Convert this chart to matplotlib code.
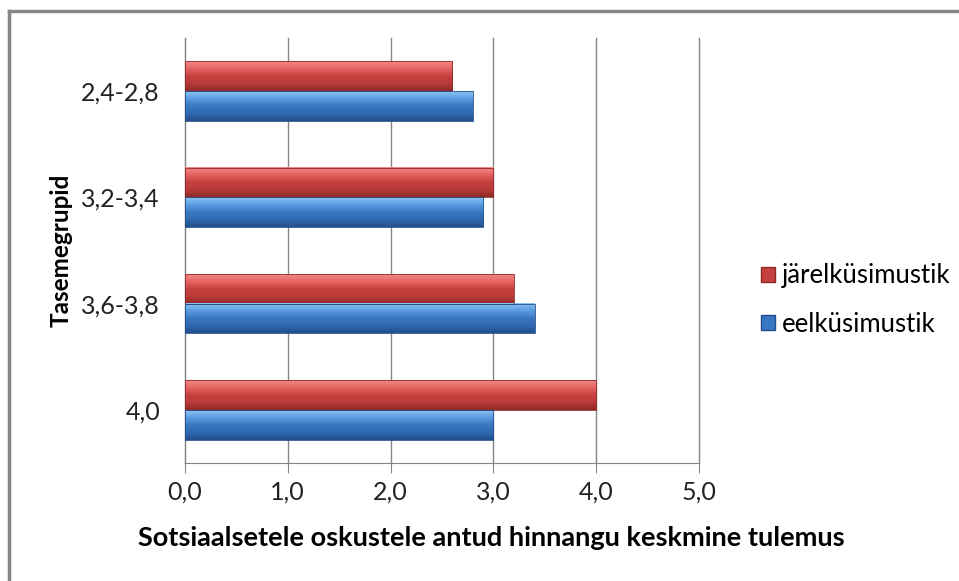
import matplotlib
matplotlib.use("Agg")
import matplotlib.pyplot as plt
import numpy as np
from matplotlib.colors import LinearSegmentedColormap
from matplotlib.lines import Line2D
from matplotlib.patches import Patch

plt.rcParams['font.family'] = ['Lato', 'DejaVu Sans']

# andmed
groups = ["4,0", "3,6-3,8", "3,2-3,4", "2,4-2,8"]
eel = [3.0, 3.4, 2.9, 2.8]
jarel = [4.0, 3.2, 3.0, 2.6]
xticks = [0, 1, 2, 3, 4, 5]

red_cmap = LinearSegmentedColormap.from_list(
    "r", ["#8f2a28", "#b93b39", "#c4413f", "#e56462", "#f28a88"])
blue_cmap = LinearSegmentedColormap.from_list(
    "b", ["#224f8c", "#3169b0", "#3a77c3", "#5c9be0", "#8cc3f4"])

fig = plt.figure(figsize=(9.59, 5.81), dpi=100)
ax = fig.add_axes([0.1929, 0.2031, 0.7289 - 0.1929, 0.9346 - 0.2031])

h = 0.28
grad = np.linspace(0, 1, 64).reshape(-1, 1)
y = np.arange(len(groups))


def gradbar(x0, val, yc, cmap):
    # varjustatud tulp: gradient alt ülesse
    y0, y1 = yc - h / 2, yc + h / 2
    ax.imshow(grad, cmap=cmap, aspect='auto', origin='lower',
              extent=(x0, val, y0, y1), zorder=3, interpolation='bilinear')
    ax.add_patch(plt.Rectangle((x0, y0), val - x0, y1 - y0, fill=False,
                               edgecolor=cmap(0.0), lw=0.6, zorder=4))


for i in range(len(groups)):
    gradbar(0, jarel[i], y[i] + h / 2, red_cmap)
    gradbar(0, eel[i], y[i] - h / 2, blue_cmap)

ax.set_xlim(0, 5)
ax.set_ylim(-0.5, len(groups) - 0.5)
ax.set_xticks(xticks)
ax.set_xticklabels([f"{v:.1f}".replace(".", ",") for v in xticks], fontsize=18, color="#222222")
ax.set_yticks(y)
ax.set_yticklabels(groups, fontsize=18, color="#222222")
ax.tick_params(axis='y', length=0, pad=18)
ax.tick_params(axis='x', length=7, color="#868686", pad=6)
ax.grid(axis='x', color="#868686", lw=1, zorder=0)
for gl in ax.xaxis.get_gridlines():
    gl.set_clip_on(False)
ax.set_axisbelow(True)
for s in ["top", "right"]:
    ax.spines[s].set_visible(False)
ax.spines["left"].set_color("#868686")
ax.spines["bottom"].set_color("#868686")

ax.set_ylabel("Tasemegrupid", fontsize=17.5, fontweight='bold', labelpad=6)
fig.text(491 / 959, 1 - 538 / 581, "Sotsiaalsetele oskustele antud hinnangu keskmine tulemus",
         ha='center', va='center', fontsize=19.5, fontweight='bold')

handles = [Patch(facecolor="#c4413f", edgecolor="#8f2a28", label="järelküsimustik"),
           Patch(facecolor="#3a77c3", edgecolor="#224f8c", label="eelküsimustik")]
fig.legend(handles=handles, loc='center left', bbox_to_anchor=(761 / 959, 1 - 300 / 581),
           frameon=False, fontsize=18.5, handlelength=0.55, handleheight=0.55,
           handletextpad=0.25, labelspacing=0.9, borderpad=0, borderaxespad=0)

# raam ümber diagrammi
fig.add_artist(Line2D([9 / 959, 1], [1 - 11 / 581] * 2, color="#868686", lw=2.5))
fig.add_artist(Line2D([9 / 959] * 2, [0, 1 - 11 / 581], color="#868686", lw=2.5))

fig.savefig("out.png", dpi=100)
